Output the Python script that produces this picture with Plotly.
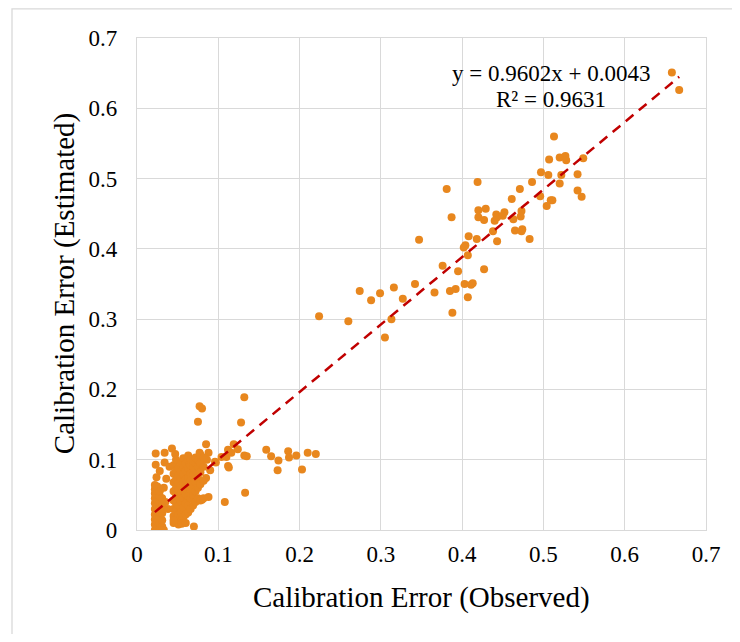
import plotly.graph_objects as go

# ---- data ----
upper_x = [0.658, 0.667, 0.507, 0.520, 0.527, 0.528, 0.549, 0.513, 0.497, 0.506, 0.522, 0.542,
           0.520, 0.419, 0.381, 0.486, 0.471, 0.542, 0.547, 0.496, 0.509, 0.511, 0.504, 0.461,
           0.420, 0.429, 0.473, 0.387, 0.420, 0.427, 0.442, 0.443, 0.452, 0.450, 0.440, 0.463,
           0.472, 0.438, 0.465, 0.474, 0.473, 0.483, 0.408, 0.418, 0.443, 0.347, 0.404, 0.402,
           0.407, 0.376, 0.395, 0.427, 0.342, 0.403, 0.411, 0.413, 0.366, 0.385, 0.392, 0.407,
           0.388, 0.327]
upper_y = [0.651, 0.626, 0.527, 0.530, 0.532, 0.526, 0.529, 0.560, 0.509, 0.505, 0.505, 0.506,
           0.493, 0.495, 0.485, 0.495, 0.485, 0.483, 0.474, 0.475, 0.469, 0.469, 0.461, 0.471,
           0.455, 0.457, 0.454, 0.445, 0.445, 0.441, 0.449, 0.445, 0.452, 0.447, 0.440, 0.442,
           0.446, 0.425, 0.426, 0.428, 0.425, 0.414, 0.418, 0.414, 0.411, 0.413, 0.405, 0.402,
           0.391, 0.376, 0.368, 0.371, 0.350, 0.350, 0.349, 0.351, 0.338, 0.340, 0.343, 0.331,
           0.309, 0.329]

mid_x = [0.224, 0.260, 0.274, 0.288, 0.299, 0.316, 0.313, 0.305]
mid_y = [0.304, 0.297, 0.340, 0.327, 0.337, 0.345, 0.300, 0.274]

low_x = [0.132, 0.077, 0.080, 0.075, 0.128, 0.085, 0.119, 0.077, 0.088, 0.124, 0.132, 0.112,
         0.116, 0.110, 0.096, 0.086, 0.104, 0.090, 0.112, 0.113, 0.133, 0.108, 0.088, 0.075,
         0.080, 0.085, 0.097, 0.159, 0.165, 0.174, 0.173, 0.186, 0.187, 0.196, 0.203, 0.210,
         0.220, 0.135]
low_y = [0.189, 0.176, 0.173, 0.154, 0.153, 0.122, 0.122, 0.110, 0.110, 0.115, 0.106, 0.114,
         0.110, 0.104, 0.097, 0.100, 0.104, 0.085, 0.091, 0.089, 0.053, 0.040, 0.047, 0.071,
         0.043, 0.074, 0.096, 0.114, 0.105, 0.099, 0.085, 0.112, 0.103, 0.106, 0.086, 0.110,
         0.108, 0.105]

cluster_left_x = [0.022] * 10 + [0.025] * 9 + [0.028] * 8 + [0.031] * 5 + [
    0.033, 0.023, 0.034, 0.043, 0.047, 0.023, 0.034, 0.036, 0.024, 0.028, 0.030, 0.033,
    0.035, 0.038, 0.040]
cluster_left_y = [0.000, 0.008, 0.015, 0.022, 0.030, 0.038, 0.045, 0.052, 0.058, 0.064,
                  0.003, 0.012, 0.020, 0.027, 0.035, 0.042, 0.050, 0.056, 0.062,
                  0.000, 0.010, 0.018, 0.025, 0.033, 0.040, 0.048, 0.055,
                  0.005, 0.014, 0.024, 0.036, 0.045,
                  0.000, 0.109, 0.110, 0.116, 0.108, 0.093, 0.096, 0.073, 0.075, 0.084, 0.030,
                  0.060, 0.040, 0.030, 0.090]

cluster_right_x = ([0.045] * 8 + [0.048] * 8 + [0.051] * 8 + [0.054] * 8 + [0.057] * 8 +
                   [0.060] * 7 + [0.063] * 8 + [0.066] * 7 + [0.069] * 6 + [0.072] * 6 +
                   [0.075] * 5 + [0.078] * 5 + [0.082] * 4 + [0.070, 0.055, 0.045, 0.060])
cluster_right_y = [0.010, 0.020, 0.030, 0.042, 0.055, 0.068, 0.080, 0.092,
                   0.015, 0.028, 0.038, 0.050, 0.060, 0.072, 0.085, 0.100,
                   0.008, 0.022, 0.035, 0.047, 0.058, 0.066, 0.078, 0.088,
                   0.012, 0.025, 0.040, 0.052, 0.063, 0.075, 0.083, 0.095,
                   0.018, 0.032, 0.045, 0.056, 0.068, 0.080, 0.090, 0.102,
                   0.022, 0.038, 0.050, 0.060, 0.072, 0.085, 0.095,
                   0.025, 0.035, 0.048, 0.062, 0.074, 0.088, 0.100, 0.106,
                   0.030, 0.045, 0.058, 0.070, 0.080, 0.092, 0.100,
                   0.035, 0.050, 0.065, 0.078, 0.090, 0.098,
                   0.040, 0.055, 0.068, 0.085, 0.095, 0.103,
                   0.045, 0.060, 0.075, 0.090, 0.100,
                   0.042, 0.065, 0.082, 0.095, 0.107,
                   0.045, 0.070, 0.090, 0.103,
                   0.005, 0.009, 0.014, 0.010]

trend_coef = [0.9602, 0.0043]
equation_text = ["y = 0.9602x + 0.0043", "R² = 0.9631"]
tick_vals = [0, 0.1, 0.2, 0.3, 0.4, 0.5, 0.6, 0.7]
tick_text = ["0", "0.1", "0.2", "0.3", "0.4", "0.5", "0.6", "0.7"]

obs = upper_x + mid_x + low_x + cluster_left_x + cluster_right_x
est = upper_y + mid_y + low_y + cluster_left_y + cluster_right_y

xmin, xmax = min(obs), max(obs)
trend_x = [xmin, xmax]
trend_y = [trend_coef[0] * v + trend_coef[1] for v in trend_x]

FONT = "Liberation Serif, Times New Roman, serif"
GRID = "#D9D9D9"

fig = go.Figure()
fig.add_trace(go.Scatter(x=obs, y=est, mode="markers",
                         marker=dict(size=8, color="#E8871E", line=dict(width=0)),
                         showlegend=False, hoverinfo="x+y"))
fig.add_trace(go.Scatter(x=trend_x, y=trend_y, mode="lines",
                         line=dict(color="#C00000", width=2.5, dash="10px,7px"),
                         showlegend=False))

axis_common = dict(range=[0, 0.7], tickvals=tick_vals, ticktext=tick_text,
                   showgrid=True, gridcolor=GRID, gridwidth=1.3, zeroline=False,
                   showline=True, linecolor=GRID, linewidth=1.3, mirror=True,
                   ticks="", tickfont=dict(family=FONT, size=23, color="#000000"))

# page body has an 8px margin: the figure starts at (8, 8) in the window
fig.update_layout(
    width=724, height=626,
    margin=dict(l=129, r=26, t=30, b=104),
    paper_bgcolor="white", plot_bgcolor="white",
    xaxis=dict(**axis_common, ticklabelstandoff=3),
    yaxis=dict(**axis_common, ticklabelstandoff=14),
    annotations=[
        dict(text="Calibration Error (Observed)", xref="paper", yref="paper",
             x=0.5, y=-0.138, xanchor="center", yanchor="middle", showarrow=False,
             font=dict(family=FONT, size=29, color="#000000")),
        dict(text="Calibration Error (Estimated)", xref="paper", yref="paper",
             x=-0.128, y=0.5, xanchor="center", yanchor="middle", showarrow=False,
             textangle=-90, font=dict(family=FONT, size=29, color="#000000")),
        dict(text=equation_text[0], xref="x", yref="y", x=0.509, y=0.650,
             xanchor="center", yanchor="middle", showarrow=False,
             font=dict(family=FONT, size=23, color="#000000")),
        dict(text=equation_text[1], xref="x", yref="y", x=0.509, y=0.612,
             xanchor="center", yanchor="middle", showarrow=False,
             font=dict(family=FONT, size=23, color="#000000")),
    ],
    shapes=[dict(type="rect", xref="paper", yref="paper",
                 x0=-0.2197, x1=1.1, y0=-0.3, y1=1.059,
                 line=dict(color=GRID, width=1.3), fillcolor="rgba(0,0,0,0)",
                 layer="below")],
)

fig.write_html("out.html")
